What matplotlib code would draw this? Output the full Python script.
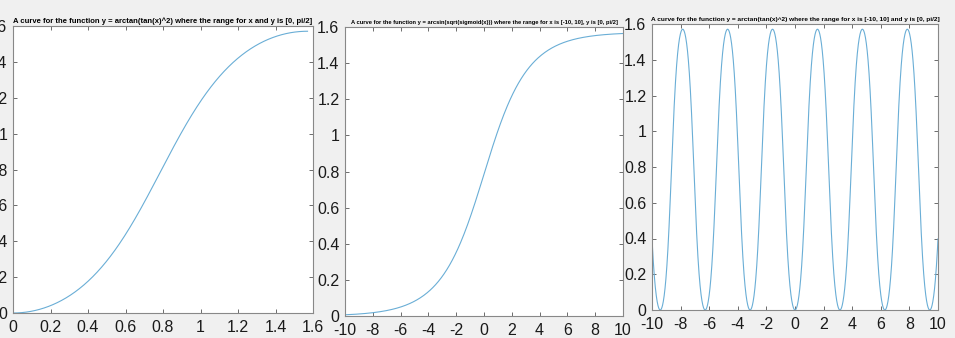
import numpy as np
import matplotlib.pyplot as plt

plt.rcParams['font.family'] = ['Liberation Sans', 'DejaVu Sans']

# the three curves are the functions named in the titles
x1 = np.linspace(0, np.pi / 2, 400)
y1 = np.arctan(np.tan(x1) ** 2)
x2 = np.linspace(-10, 10, 400)
y2 = np.arcsin(np.sqrt(1 / (1 + np.exp(-x2))))
x3 = np.linspace(-10, 10, 2000)
y3 = np.arctan(np.tan(x3) ** 2)

titles = [
    "A curve for the function y = arctan(tan(x)^2) where the range for x and y is [0, pi/2]",
    "A curve for the function y = arcsin(sqrt(sigmoid(x))) where the range for x is [-10, 10], y is [0, pi/2]",
    "A curve for the function y = arctan(tan(x)^2) where the range for x is [-10, 10] and y is [0, pi/2]",
]
yticks = [0, 0.2, 0.4, 0.6, 0.8, 1, 1.2, 1.4, 1.6]
ytick_labels = ["0", "0.2", "0.4", "0.6", "0.8", "1", "1.2", "1.4", "1.6"]
xticks1 = [0, 0.2, 0.4, 0.6, 0.8, 1, 1.2, 1.4, 1.6]
xtick_labels1 = ["0", "0.2", "0.4", "0.6", "0.8", "1", "1.2", "1.4", "1.6"]
xticks2 = list(range(-10, 11, 2))
xtick_labels2 = [str(v) for v in xticks2]

W, H = 955, 338
fig = plt.figure(figsize=(W / 100, H / 100), dpi=100, facecolor="#f0f0f0")
renderer = fig.canvas.get_renderer()

# pixel boxes: left, right, top, bottom ; title target width in px
boxes = [(13, 313, 26, 313), (345, 623, 27, 316), (652, 938, 24, 310)]
title_w = [298, 267, 287]
data = [(x1, y1, xticks1, xtick_labels1, (0, 1.6)),
        (x2, y2, xticks2, xtick_labels2, (-10, 10)),
        (x3, y3, xticks2, xtick_labels2, (-10, 10))]

for (l, r, t, b), (x, y, xt, xtl, xl), title, tw in zip(boxes, data, titles, title_w):
    ax = fig.add_axes([l / W, 1 - b / H, (r - l) / W, (b - t) / H])
    ax.plot(x, y, color="#6aaed6", linewidth=0.8)
    ax.set_xlim(*xl)
    ax.set_ylim(0, 1.6)
    ax.set_xticks(xt)
    ax.set_xticklabels(xtl)
    ax.set_yticks(yticks)
    ax.set_yticklabels(ytick_labels)
    ax.tick_params(direction="in", length=3, width=0.6, color="#555555",
                   top=True, right=True)
    ax.tick_params(axis="x", labelsize=11.5, pad=5, labelcolor="#1a1a1a")
    ax.tick_params(axis="y", labelsize=11.5, pad=4, labelcolor="#1a1a1a")
    for s in ax.spines.values():
        s.set_color("#888888")
        s.set_linewidth(0.8)
    ttl = ax.set_title(title, fontsize=7, fontweight="bold", pad=2,
                       fontstretch="condensed")
    # shrink the title until it fits the width it has in the reference
    w = ttl.get_window_extent(renderer).width
    ttl.set_fontsize(7 * tw / w)

fig.savefig("out.png", dpi=100, facecolor=fig.get_facecolor())
